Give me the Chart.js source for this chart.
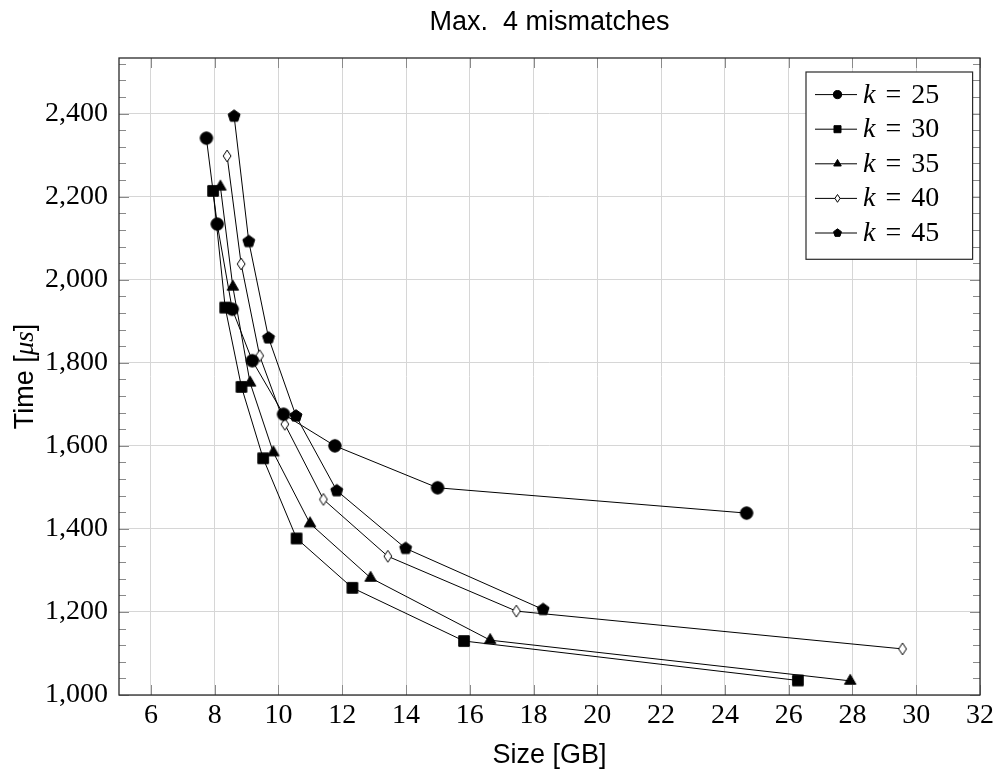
<!DOCTYPE html>
<html>
<head>
<meta charset="utf-8">
<script src="https://cdn.jsdelivr.net/npm/chart.js@4.4.1/dist/chart.umd.min.js"></script>
<style>
  html, body { margin: 0; padding: 0; background: #fff; }
  #wrap { width: 998px; height: 776px; }
</style>
</head>
<body>
<div id="wrap"><canvas id="myChart"></canvas></div>
<script>
// values
const kValues = [25, 30, 35, 40, 45];
const markStyles = ['circle', 'square', 'triangle', 'diamond', 'pentagon'];

const size25 = [7.74, 8.08, 8.55, 9.18, 10.16, 11.77, 14.99, 24.68];
const time25 = [2341, 2134, 1929, 1805, 1676, 1600, 1499, 1438];
const size30 = [7.95, 8.33, 8.84, 9.52, 10.57, 12.32, 15.82, 26.29];
const time30 = [2214, 1933, 1742, 1570, 1377, 1258, 1130, 1035];
const size35 = [8.18, 8.57, 9.11, 9.84, 10.99, 12.89, 16.64, 27.93];
const time35 = [2224, 1983, 1752, 1584, 1413, 1282, 1132, 1034];
const size40 = [8.39, 8.83, 9.41, 10.20, 11.41, 13.43, 17.46, 29.57];
const time40 = [2298, 2038, 1817, 1652, 1471, 1334, 1202, 1111];
const size45 = [8.61, 9.07, 9.69, 10.55, 11.83, 13.99, 18.30];
const time45 = [2394, 2092, 1860, 1672, 1492, 1353, 1206];

const sizes = [size25, size30, size35, size40, size45];
const times = [time25, time30, time35, time40, time45];

const SANS = '"Liberation Sans", Arial, sans-serif';
const SERIF = '"Liberation Serif", "Times New Roman", serif';

const markRadius = { circle: 6.2, square: 5.9, triangle: 6.6, diamond: 5.9, pentagon: 6.3 };

function drawMark(ctx, style, x, y, r) {
    ctx.beginPath();
    if (style === 'circle') {
        ctx.arc(x, y, r, 0, 2 * Math.PI);
    } else if (style === 'square') {
        ctx.rect(x - r * 0.9, y - r * 0.9, r * 1.8, r * 1.8);
    } else if (style === 'diamond') {
        ctx.moveTo(x, y - r);
        ctx.lineTo(x + r * 0.66, y);
        ctx.lineTo(x, y + r);
        ctx.lineTo(x - r * 0.66, y);
        ctx.closePath();
    } else {
        const n = style === 'triangle' ? 3 : 5;
        for (let i = 0; i < n; i++) {
            const a = -Math.PI / 2 + i * 2 * Math.PI / n;
            ctx.lineTo(x + r * Math.cos(a), y + r * Math.sin(a));
        }
        ctx.closePath();
    }
    ctx.fillStyle = style === 'diamond' ? '#fff' : '#000';
    ctx.fill();
    ctx.lineWidth = 1;
    ctx.strokeStyle = '#000';
    ctx.stroke();
}

function markImage(style) {
    const c = document.createElement('canvas');
    c.width = 18; c.height = 18;
    drawMark(c.getContext('2d'), style, 9, 9, markRadius[style]);
    return c;
}

const datasets = kValues.map((k, i) => ({
    label: 'k = ' + k,
    data: sizes[i].map((s, j) => ({ x: s, y: times[i][j] })),
    borderColor: '#000',
    borderWidth: 1,
    backgroundColor: '#000',
    pointStyle: markImage(markStyles[i]),
    pointRadius: 6,
    tension: 0,
    fill: false,
    mark: markStyles[i]
}));

// frame with inward ticks (major + minor) like the pgfplots axis
const frameTicks = {
    id: 'frameTicks',
    afterDatasetsDraw(chart) {
        const ctx = chart.ctx, ca = chart.chartArea;
        const xs = chart.scales.x, ys = chart.scales.y;
        ctx.save();
        ctx.strokeStyle = '#8a8a8a';
        ctx.lineWidth = 1;
        ctx.beginPath();
        xs.ticks.forEach(t => {
            const px = Math.round(xs.getPixelForValue(t.value)) + 0.5;
            ctx.moveTo(px, ca.bottom); ctx.lineTo(px, ca.bottom - 10);
            ctx.moveTo(px, ca.top); ctx.lineTo(px, ca.top + 10);
        });
        for (let v = ys.min; v <= ys.max; v += 40) {
            const py = Math.round(ys.getPixelForValue(v)) + 0.5;
            const len = (v % 200 === 0) ? 10 : 7;
            ctx.moveTo(ca.left, py); ctx.lineTo(ca.left + len, py);
            ctx.moveTo(ca.right, py); ctx.lineTo(ca.right - len, py);
        }
        ctx.stroke();
        ctx.strokeStyle = '#2a2a2a';
        ctx.lineWidth = 1.3;
        ctx.strokeRect(ca.left, ca.top, ca.right - ca.left, ca.bottom - ca.top);
        ctx.restore();
    }
};

// y-axis title with italic math part
const yTitle = {
    id: 'yTitle',
    afterDraw(chart) {
        const ctx = chart.ctx, ca = chart.chartArea;
        const parts = [['Time [', '27px ' + SANS], ['\u03bcs', 'italic 27px ' + SERIF], [']', '27px ' + SANS]];
        ctx.save();
        let w = 0;
        parts.forEach(p => { ctx.font = p[1]; w += ctx.measureText(p[0]).width; });
        ctx.translate(33, (ca.top + ca.bottom) / 2);
        ctx.rotate(-Math.PI / 2);
        ctx.fillStyle = '#000';
        ctx.textBaseline = 'alphabetic';
        let x = -w / 2;
        parts.forEach(p => { ctx.font = p[1]; ctx.fillText(p[0], x, 0); x += ctx.measureText(p[0]).width; });
        ctx.restore();
    }
};

// boxed legend in the upper right corner of the plot
const legendBox = {
    id: 'legendBox',
    afterDraw(chart) {
        const ctx = chart.ctx, ca = chart.chartArea;
        const x0 = ca.right - 174, y0 = ca.top + 14, w = 166.6, h = 187.3;
        ctx.save();
        ctx.fillStyle = '#fff';
        ctx.fillRect(x0, y0, w, h);
        ctx.strokeStyle = '#2a2a2a';
        ctx.lineWidth = 1.2;
        ctx.strokeRect(x0, y0, w, h);
        chart.data.datasets.forEach((ds, i) => {
            const yc = y0 + 22.6 + i * 34.6;
            ctx.strokeStyle = '#000';
            ctx.lineWidth = 1;
            ctx.beginPath();
            ctx.moveTo(x0 + 9, yc); ctx.lineTo(x0 + 51, yc);
            ctx.stroke();
            drawMark(ctx, ds.mark, x0 + 31.5, yc, markRadius[ds.mark] * 0.66);
            ctx.fillStyle = '#000';
            ctx.textBaseline = 'alphabetic';
            let tx = x0 + 57;
            ctx.font = 'italic 28px ' + SERIF;
            ctx.fillText('k', tx, yc + 8);
            tx += ctx.measureText('k').width + 10;
            ctx.font = '28px ' + SERIF;
            ctx.fillText('=', tx, yc + 8);
            tx += ctx.measureText('=').width + 10;
            ctx.fillText(String(kValues[i]), tx, yc + 8);
        });
        ctx.restore();
    }
};

const ctx = document.getElementById('myChart').getContext('2d');
const myChart = new Chart(ctx, {
    type: 'line',
    data: { datasets: datasets },
    options: {
        responsive: true,
        maintainAspectRatio: false,
        animation: false,
        layout: { padding: { left: 0, right: 16, top: 0, bottom: 0 } },
        scales: {
            x: {
                type: 'linear',
                min: 5,
                max: 32,
                ticks: {
                    stepSize: 2,
                    includeBounds: false,
                    padding: 4,
                    color: '#000',
                    font: { family: SERIF, size: 28 }
                },
                grid: { color: '#d6d6d6', drawTicks: false },
                border: { display: false },
                title: {
                    display: true,
                    text: 'Size [GB]',
                    color: '#000',
                    font: { family: SANS, size: 27 },
                    padding: { top: 0, bottom: 4 }
                },
                afterFit: s => { s.height = 81; }
            },
            y: {
                type: 'linear',
                min: 1000,
                max: 2534,
                ticks: {
                    stepSize: 200,
                    includeBounds: false,
                    padding: 11,
                    color: '#000',
                    font: { family: SERIF, size: 28 },
                    callback: v => v.toLocaleString('en-US')
                },
                grid: { color: '#d6d6d6', drawTicks: false },
                border: { display: false },
                afterFit: s => { s.width = 119; }
            }
        },
        plugins: {
            legend: { display: false },
            tooltip: { enabled: false },
            title: {
                display: true,
                fullSize: false,
                text: 'Max.  4 mismatches',
                color: '#000',
                font: { family: SANS, size: 27, weight: 'normal' },
                padding: { top: 6, bottom: 19.6 }
            }
        }
    },
    plugins: [frameTicks, yTitle, legendBox]
});
</script>
</body>
</html>
